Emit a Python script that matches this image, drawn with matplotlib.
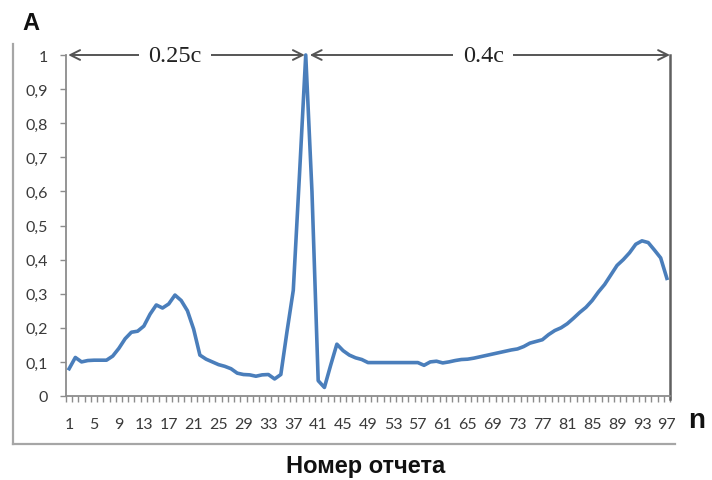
import numpy as np
import matplotlib
matplotlib.use('Agg')
import matplotlib.pyplot as plt
from matplotlib.lines import Line2D

# sample index 1..97 and amplitude
n = np.arange(1, 98)
amp = [0.08, 0.113, 0.10, 0.104, 0.105, 0.105, 0.105, 0.117, 0.14, 0.168,
       0.187, 0.19, 0.205, 0.24, 0.267, 0.258, 0.27, 0.296, 0.28, 0.25,
       0.196, 0.12, 0.108, 0.10, 0.092, 0.087, 0.08, 0.067, 0.063, 0.062,
       0.058, 0.062, 0.063, 0.05, 0.063, 0.19, 0.31, 0.65, 1.0, 0.6,
       0.045, 0.025, 0.09, 0.152, 0.133, 0.12, 0.112, 0.107, 0.098, 0.098,
       0.098, 0.098, 0.098, 0.098, 0.098, 0.098, 0.098, 0.09, 0.10, 0.102,
       0.097, 0.10, 0.104, 0.107, 0.108, 0.111, 0.115, 0.119, 0.123, 0.127,
       0.131, 0.135, 0.138, 0.145, 0.155, 0.16, 0.165, 0.18, 0.192, 0.20,
       0.212, 0.228, 0.245, 0.26, 0.28, 0.305, 0.327, 0.355, 0.383, 0.40,
       0.42, 0.445, 0.455, 0.45, 0.428, 0.405, 0.345]
xticks = list(range(1, 98, 4))
yticks = [0, 0.1, 0.2, 0.3, 0.4, 0.5, 0.6, 0.7, 0.8, 0.9, 1]
ylabels = ['0', '0,1', '0,2', '0,3', '0,4', '0,5', '0,6', '0,7', '0,8', '0,9', '1']
span_labels = ['0.25c', '0.4c']
peak_n = 39

fig = plt.figure(figsize=(7.12, 4.81), dpi=100)
ax = fig.add_axes([66/712, 1 - 397/481, 604/712, 341/481])

ax.plot(n, amp, color='#4a7ebb', lw=2.6, solid_joinstyle='round', clip_on=False)

ax.set_xlim(0.5, 97.5)
ax.set_ylim(0, 1)
for s in ['top', 'right']:
    ax.spines[s].set_visible(False)
for s in ['left', 'bottom']:
    ax.spines[s].set_color('#8c8c8c')
    ax.spines[s].set_linewidth(1.3)

tick_font = dict(family='Lato', size=11.5, color='#3a3a3a')
ax.set_xticks(xticks)
ax.set_xticklabels([str(v) for v in xticks], **tick_font)
ax.set_xticks(np.arange(0.5, 98, 1), minor=True)
ax.tick_params(axis='x', which='major', length=0, pad=15)
ax.tick_params(axis='x', which='minor', length=4, width=1, color='#8c8c8c', direction='out')
ax.set_yticks(yticks)
ax.set_yticklabels(ylabels, **tick_font)
ax.tick_params(axis='y', length=4, width=1, color='#8c8c8c', pad=9)

# right boundary line of the annotation
ax.plot([97.5, 97.5], [-0.01, 1.0], color='#606060', lw=1.8, clip_on=False)

arrow = dict(arrowstyle='<->,head_length=0.7,head_width=0.35', color='#555555',
             lw=1.4, shrinkA=0, shrinkB=0)
ax.annotate('', xy=(0.85, 1.0), xytext=(peak_n - 0.15, 1.0), arrowprops=arrow,
            annotation_clip=False)
ax.annotate('', xy=(peak_n + 0.65, 1.0), xytext=(97.5, 1.0), arrowprops=arrow,
            annotation_clip=False)
span_font = dict(family='Liberation Serif', size=17.5, color='#222222',
                 ha='center', va='center',
                 bbox=dict(facecolor='white', edgecolor='none', pad=7))
ax.text(18.0, 1.0, span_labels[0], **span_font)
ax.text(67.5, 1.0, span_labels[1], **span_font)

fig.text(22/712, 1 - 24/481, 'A', family='Liberation Sans', weight='bold',
         size=17, ha='left', va='center', color='#111111')
fig.text(688/712, 1 - 421/481, 'n', family='Liberation Sans', weight='bold',
         size=20, ha='left', va='center', color='#111111')
fig.text(366/712, 1 - 467/481, 'Номер отчета', family='Liberation Sans',
         weight='bold', size=17, ha='center', va='center', color='#111111')

# outer chart frame (only left and bottom visible)
fig.add_artist(Line2D([13/712, 13/712], [1 - 45/481, 1 - 445/481],
                      transform=fig.transFigure, color='#a6a6a6', lw=1.6))
fig.add_artist(Line2D([13/712, 675/712], [1 - 445/481, 1 - 445/481],
                      transform=fig.transFigure, color='#a6a6a6', lw=1.6))

fig.savefig('out.png', dpi=100, facecolor='white')
